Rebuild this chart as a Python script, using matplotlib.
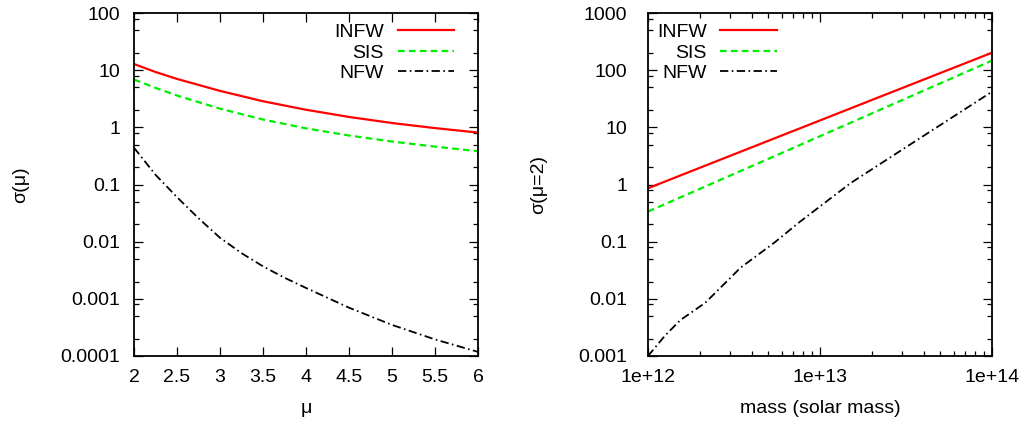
import math
import matplotlib
matplotlib.use("Agg")
import matplotlib.pyplot as plt
from matplotlib.ticker import LogLocator, NullFormatter, FixedLocator

plt.rcParams['font.family'] = ['Liberation Sans', 'DejaVu Sans']

# left panel: sigma as a function of mu
mu = [2.0, 2.25, 2.5, 3.0, 3.5, 4.0, 4.5, 5.0, 5.5, 6.0]
infw_mu = [12.8, 9.3, 7.03, 4.34, 2.86, 2.03, 1.52, 1.19, 0.97, 0.81]
sis_mu = [6.87, 4.9, 3.6, 2.12, 1.37, 0.96, 0.72, 0.565, 0.46, 0.382]
nfw_mu_x = [2.0, 2.25, 2.5, 2.75, 3.0, 3.25, 3.5, 3.75, 4.0, 4.5, 5.0, 5.5, 6.0]
nfw_mu = [0.44, 0.148, 0.060, 0.0257, 0.0117, 0.0063, 0.0037, 0.00234, 0.00155,
          0.0007, 0.00035, 0.000195, 0.000118]
mu_ticks = [2, 2.5, 3, 3.5, 4, 4.5, 5, 5.5, 6]

# right panel: sigma(mu=2) as a function of halo mass
mass = [1e12, 3e12, 1e13, 3e13, 1e14]
infw_m = [0.86, 3.17, 13.2, 48.6, 202]
sis_m = [0.336, 1.43, 7.0, 29.9, 147]
nfw_mass = [1e12, 1.26e12, 1.55e12, 2.15e12, 3.0e12, 3.45e12, 5.4e12, 7.6e12,
            1.5e13, 3.2e13, 1e14]
nfw_m = [0.001, 0.0023, 0.0043, 0.0085, 0.023, 0.035, 0.095, 0.22, 1.05, 4.6, 42]

labels = ['INFW', 'SIS', 'NFW']
colors = ['#ff0000', '#00ee00', '#000000']

fs = 14

fig = plt.figure(figsize=(10.25, 4.24), dpi=100)
ax1 = fig.add_axes([134 / 1025, 1 - 356 / 424, 344 / 1025, 343 / 424])
ax2 = fig.add_axes([648 / 1025, 1 - 356 / 424, 344 / 1025, 343 / 424])


def draw_lines(ax, xs, ys):
    ax.plot(xs[0], ys[0], color=colors[0], lw=1.6, label=labels[0])
    ax.plot(xs[1], ys[1], color=colors[1], lw=1.6, dashes=(3.0, 1.9), label=labels[1])
    ax.plot(xs[2], ys[2], color=colors[2], lw=1.3, dashes=(4.6, 1.9, 0.9, 1.9), label=labels[2])


def style(ax, ypad):
    ax.set_yscale('log')
    ax.yaxis.set_major_locator(LogLocator(base=10, numticks=20))
    ax.yaxis.set_minor_locator(LogLocator(base=10, subs=[2, 5, 8], numticks=20))
    ax.yaxis.set_minor_formatter(NullFormatter())
    ax.yaxis.set_major_formatter(plt.FuncFormatter(lambda v, p: '%g' % v))
    ax.tick_params(which='both', direction='in', top=True, right=True, labelsize=fs, width=0.9)
    ax.tick_params(axis='y', which='both', pad=ypad)
    ax.tick_params(axis='x', which='both', pad=9)
    ax.tick_params(which='major', length=6.5)
    ax.tick_params(which='minor', length=3.3)
    for s in ax.spines.values():
        s.set_linewidth(1.3)


draw_lines(ax1, [mu, mu, nfw_mu_x], [infw_mu, sis_mu, nfw_mu])
style(ax1, 10)
ax1.set_xlim(2, 6)
ax1.set_ylim(1e-4, 100)
ax1.xaxis.set_major_locator(FixedLocator(mu_ticks))
ax1.xaxis.set_major_formatter(plt.FuncFormatter(lambda v, p: '%g' % v))
ax1.set_xlabel('μ', fontsize=fs)
ax1.set_ylabel('σ(μ)', fontsize=fs)
ax1.yaxis.set_label_coords(-0.305, 0.5)
ax1.xaxis.set_label_coords(0.5, -0.129)

draw_lines(ax2, [mass, mass, nfw_mass], [infw_m, sis_m, nfw_m])
style(ax2, 15)
ax2.set_xscale('log')
ax2.set_xlim(1e12, 1e14)
ax2.set_ylim(1e-3, 1000)
ax2.xaxis.set_major_locator(LogLocator(base=10, numticks=10))
ax2.xaxis.set_minor_locator(LogLocator(base=10, subs=range(2, 10), numticks=10))
ax2.xaxis.set_minor_formatter(NullFormatter())
ax2.xaxis.set_major_formatter(plt.FuncFormatter(lambda v, p: '1e+%d' % round(math.log10(v))))
ax2.set_xlabel('mass (solar mass)', fontsize=fs)
ax2.set_ylabel('σ(μ=2)', fontsize=fs)
ax2.yaxis.set_label_coords(-0.294, 0.5)
ax2.xaxis.set_label_coords(0.5, -0.129)

for ax, xr in [(ax1, 0.930), (ax2, 0.374)]:
    ax.legend(loc='upper right', bbox_to_anchor=(xr, 0.969), frameon=False,
              markerfirst=False, fontsize=fs, handlelength=2.9, handletextpad=0.7,
              borderpad=0, borderaxespad=0, labelspacing=0.14)

fig.savefig('out.png', dpi=100)
